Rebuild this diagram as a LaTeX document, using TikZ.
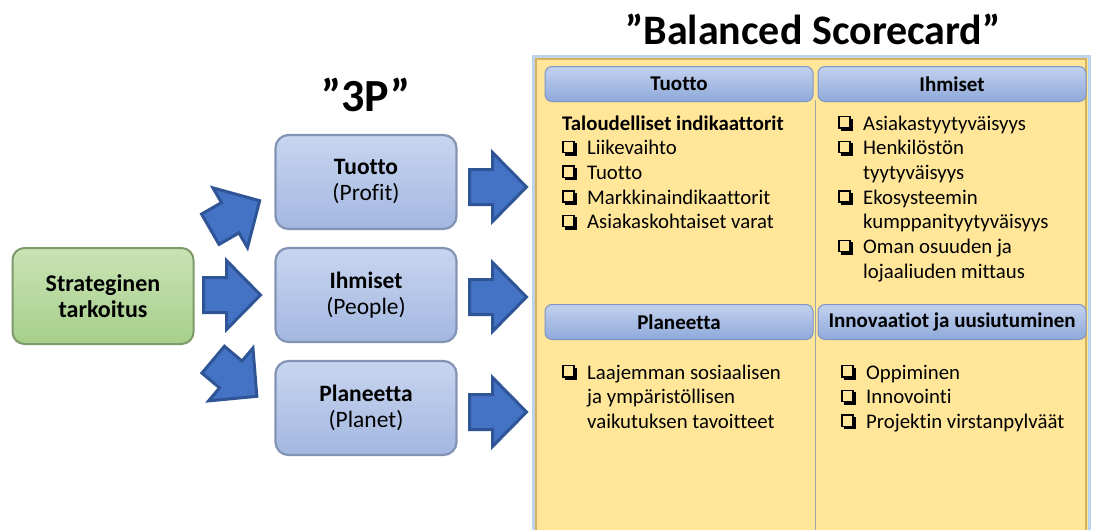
\documentclass[tikz,border=0pt]{standalone}
\usepackage{fontspec}
\setmainfont{Carlito}[Ligatures=NoCommon]
\usetikzlibrary{calc}

\definecolor{arrowfill}{HTML}{4472C4}
\definecolor{arrowline}{HTML}{2F5597}
\definecolor{greentop}{HTML}{C9E3B5}
\definecolor{greenbot}{HTML}{A6CF8A}
\definecolor{greenline}{HTML}{7E9A6A}
\definecolor{bluetop}{HTML}{C8D5EF}
\definecolor{bluebot}{HTML}{A3B7E0}
\definecolor{blueline}{HTML}{8393B4}
\definecolor{headtop}{HTML}{C2D1EE}
\definecolor{headbot}{HTML}{8FA9DA}
\definecolor{headline}{HTML}{7E95C4}
\definecolor{panelfill}{HTML}{FFE699}
\definecolor{panelblue}{HTML}{BDD3EE}
\definecolor{panelgold}{HTML}{D6B25E}
\definecolor{divider}{HTML}{9EA3A8}

% shadowed check box drawn from rules
\newcommand\chkbox{%
  \begingroup\setlength{\unitlength}{1pt}%
  \begin{picture}(15,15)
    \put(0,13.6){\rule{12.5pt}{1.4pt}}
    \put(0,2.5){\rule{1.4pt}{12.5pt}}
    \put(11.1,2.5){\rule{1.4pt}{12.5pt}}
    \put(0,2.5){\rule{12.5pt}{1.4pt}}
    \put(12.5,0){\rule{2.5pt}{12.5pt}}
    \put(2.5,0){\rule{12.5pt}{2.5pt}}
  \end{picture}\endgroup}
\newcommand\chk{\makebox[25pt][l]{\raisebox{-1pt}{\chkbox}}}

% block arrow centred at #1, turned by #2 degrees
\newcommand\blockarrow[2]{%
  \draw[barrow, shift={(#1)}, rotate=#2]
    (-28.5,-17.5) -- (-5.5,-17.5) -- (-5.5,-34.5) -- (28.5,0)
    -- (-5.5,34.5) -- (-5.5,17.5) -- (-28.5,17.5) -- cycle;}

\begin{document}
\begin{tikzpicture}[x=1pt,y=-1pt,
  every node/.style={inner sep=0pt},
  barrow/.style={fill=arrowfill, draw=arrowline, line width=3pt, line join=miter},
  greenbox/.style={rounded corners=12pt, draw=greenline, line width=2pt,
    top color=greentop, bottom color=greenbot, minimum width=181pt,
    minimum height=96pt, align=center,
    font=\fontsize{24}{25.5}\selectfont\bfseries},
  bluebox/.style={rounded corners=13pt, draw=blueline, line width=2.2pt,
    top color=bluetop, bottom color=bluebot, minimum width=181pt,
    minimum height=94pt, align=center, font=\fontsize{23.5}{26}\selectfont},
  header/.style={rounded corners=7pt, draw=headline, line width=1pt,
    top color=headtop, bottom color=headbot, minimum width=268pt,
    minimum height=35pt, font=\fontsize{21}{24}\selectfont\bfseries},
  listtext/.style={anchor=base west, font=\fontsize{20.8}{24.7}\selectfont},
  title/.style={font=\bfseries}]
\useasboundingbox (0,0) rectangle (1093,530);
\fill[white] (0,0) rectangle (1093,530);

% titles
\node[title, font=\fontsize{46}{50}\selectfont\bfseries] (t3p) at (366,95) {”3P”};
\node[title, font=\fontsize{42}{50}\selectfont\bfseries] (tbsc) at (813,29) {”Balanced Scorecard”};

% left column: purpose and the three P boxes
\node[greenbox] (strat) at (103,296) {Strateginen\\tarkoitus};
\node[bluebox] (profit) at (366,182) {\textbf{Tuotto}\\(Profit)};
\node[bluebox] (people) at (366,295) {\textbf{Ihmiset}\\(People)};
\node[bluebox] (planet) at (366,408) {\textbf{Planeetta}\\(Planet)};

% block arrows
\coordinate (aup) at (235,215);
\coordinate (amid) at (232,295);
\coordinate (adown) at (235,378);
\coordinate (r1) at (498,187);
\coordinate (r2) at (498,297);
\coordinate (r3) at (498,412);
\blockarrow{aup}{30}
\blockarrow{amid}{0}
\blockarrow{adown}{-40}
\blockarrow{r1}{0}
\blockarrow{r2}{0}
\blockarrow{r3}{0}

% scorecard panel
\draw[draw=panelblue, line width=3pt, fill=panelfill] (533,56) rectangle (1089,545);
\draw[draw=panelgold, line width=1.2pt] (536,59) rectangle (1086,545);
\draw[divider, line width=1pt] (815.5,100) -- (815.5,545);

\node[header] (hprofit) at (679,84) {Tuotto};
\node[header] (hpeople) at (952,84) {Ihmiset};
\node[header] (hplanet) at (679,322) {Planeetta};
\node[header] (hinno) at (952,322) {Innovaatiot ja uusiutuminen};

\node[listtext] (lprofit) at (562,130) {%
  \begin{tabular}[t]{@{}l@{}l@{}}
  \multicolumn{2}{@{}l@{}}{\bfseries Taloudelliset indikaattorit}\\
  \chk & Liikevaihto\\
  \chk & Tuotto\\
  \chk & Markkinaindikaattorit\\
  \chk & Asiakaskohtaiset varat
  \end{tabular}};

\node[listtext] (lpeople) at (838,130) {%
  \begin{tabular}[t]{@{}l@{}l@{}}
  \chk & Asiakastyytyväisyys\\
  \chk & Henkilöstön\\
       & tyytyväisyys\\
  \chk & Ekosysteemin\\
       & kumppanityytyväisyys\\
  \chk & Oman osuuden ja\\
       & lojaaliuden mittaus
  \end{tabular}};

\node[listtext] (lplanet) at (562,379) {%
  \begin{tabular}[t]{@{}l@{}l@{}}
  \chk & Laajemman sosiaalisen\\
       & ja ympäristöllisen\\
       & vaikutuksen tavoitteet
  \end{tabular}};

\node[listtext] (linno) at (841,379) {%
  \begin{tabular}[t]{@{}l@{}l@{}}
  \chk & Oppiminen\\
  \chk & Innovointi\\
  \chk & Projektin virstanpylväät
  \end{tabular}};
\end{tikzpicture}
\end{document}
